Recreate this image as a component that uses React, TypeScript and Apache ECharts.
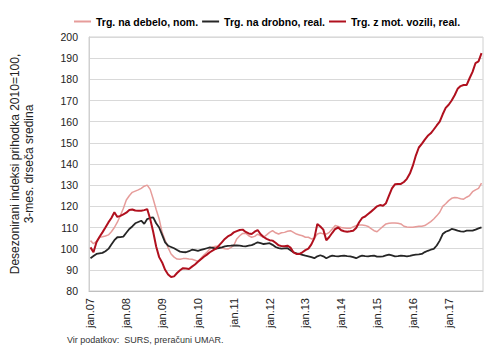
import React, { useEffect, useRef } from "react";
import * as echarts from "echarts";

const monthNames = ["jan", "feb", "mar", "apr", "maj", "jun", "jul", "avg", "sep", "okt", "nov", "dec"];
const yearSuffixes = ["07", "08", "09", "10", "11", "12", "13", "14", "15", "16", "17"];
const categories = yearSuffixes.flatMap((y) => monthNames.map((m) => `${m}.${y}`));

const seriesNames = ["Trg. na debelo, nom.", "Trg. na drobno, real.", "Trg. z mot. vozili, real."];

const debelo = [
  103.8, 102.3, 103.5, 105.4, 105.6, 106, 106.5, 108, 110, 112.5, 115.6, 119,
  123, 125, 126.6, 127.2, 127.8, 128.5, 129.5, 130, 128, 123.5, 118.5, 114,
  107.7, 104, 100.5, 97.5, 96, 95.1, 95, 95.3, 95.3, 95.1, 95, 94.5,
  94, 95.5, 97, 98.3, 99.9, 100.8, 101.2, 101, 100.3, 100, 99.8, 100.5,
  101.5, 104.6, 106.1, 107.2, 107.3, 106.1, 105.4, 105.8, 106.9, 106.1, 105.4, 106.5,
  107.7, 108.5, 107.5, 106.9, 107.5, 107.7, 108.2, 108.5, 107.7, 106.9, 106.5, 106.1,
  105.4, 105.4, 104.6, 105, 106.9, 107.4, 107, 106.9, 107.7, 109.3, 110.9, 110.5,
  110, 109.8, 109.6, 109.6, 110.3, 110.9, 111.2, 111.2, 111, 110.5, 109.5, 108.5,
  108, 109.3, 110.5, 111.7, 112, 112.1, 112.1, 112, 111.7, 110.6, 110.2, 110.1,
  110.1, 110.4, 110.6, 110.6, 110.9, 111.8, 112.8, 114, 115.5, 117.2, 120, 121.2,
  122.7, 123.8, 124.2, 124, 123.6, 123.4, 124.3, 125.1, 126.9, 127.8, 128.5, 131,
];

const drobno = [
  95.5, 96.5, 97.5, 97.8, 98, 98.8, 99.9, 102, 104, 105.4, 105.5, 105.7,
  107.5, 109.3, 110.5, 112, 112.6, 113.2, 111.7, 114, 114.5, 114.8, 112, 110,
  106.5, 103, 101.4, 100.8, 100.2, 99.4, 98.6, 98.4, 98.3, 98.8, 99.5, 99.3,
  99, 99.4, 99.8, 100.2, 100.6, 100.4, 100, 100.3, 100.6, 101.1, 101.3, 101.4,
  101.6, 101.5, 101.4, 101.2, 101.1, 101.4, 101.7, 102.3, 103, 102.6, 102.2, 102.4,
  102.6, 101.8, 100.8, 100.3, 100, 100.1, 100.2, 99.3, 98.3, 97.8, 97.5, 97.1,
  96.7, 96.4, 96, 95.5, 96.4, 96.9, 96.4, 95.5, 96.2, 96.7, 96.5, 96.4,
  96.6, 96.7, 96.5, 96.4, 96, 95.5, 96.2, 96.7, 96.5, 96.4, 96.6, 96.7,
  96.2, 96.2, 96.4, 96.8, 97.2, 96.8, 96.4, 96.5, 96.7, 96.6, 96.4, 96.6,
  97, 97.2, 97.3, 97.5, 98.4, 99, 99.5, 99.9, 101.5, 103.8, 106.9, 108,
  108.5, 109.3, 109, 108.5, 108.2, 108, 108.5, 108.5, 108.5, 109, 109.6, 110.1,
];

const vozila = [
  100.6, 98.3, 103, 105.5, 107.7, 110, 112.4, 114.5, 117.2, 115, 115.5, 116.2,
  117, 118.3, 118.5, 118, 117.9, 117.9, 118.2, 118.7, 114, 108, 101, 96,
  93.5, 90, 87.8, 86.6, 86.9, 88.5, 89.8, 90.8, 90.6, 90.4, 91.5, 92.5,
  93.8, 95, 96.2, 97.2, 98.3, 99.2, 100, 101.4, 103, 104.6, 105.8, 106.5,
  107.7, 108.3, 108.8, 109, 107.9, 107.2, 106.9, 108, 108.8, 106.8, 105.5, 104.6,
  104, 103.8, 102.8, 101.6, 101.2, 101.1, 101.4, 100.5, 98.3, 97.5, 97.5, 98.3,
  99.3, 100, 102, 105, 111.7, 110.5, 109, 104, 105.5, 107.5, 109.3, 110,
  108.7, 108.2, 108, 108.2, 108.5, 109.8, 112.5, 114.5, 115.2, 116.4, 117.5, 118.7,
  120, 120.6, 120.3, 121.5, 125.1, 128.5, 130.4, 130.6, 130.6, 131.5, 133, 135.5,
  139.2, 144, 147.8, 149.5, 151.5, 153.3, 154.5, 156.3, 158.2, 160, 163.5, 166.5,
  168, 170, 172.5, 175.5, 176.8, 177.3, 177.3, 180.5, 183.5, 187.7, 188.5, 192.4,
];

const colors = ["#e69c9a", "#262626", "#b0101e"];
const widths = [1.5, 1.8, 2];

const yTitle = "Desezonirani indeksi prihodka 2010=100,\n3-mes. drseča sredina";
const sourceText = "Vir podatkov:  SURS, preračuni UMAR.";

export default function App() {
  const ref = useRef<HTMLDivElement>(null);
  useEffect(() => {
    document.body.style.margin = "0";
    if (!ref.current) return;
    const chart = echarts.init(ref.current, null, { renderer: "svg" });
    const font = "'Liberation Sans', Arial, sans-serif";
    const dataSets = [debelo, drobno, vozila];
    chart.setOption({
      animation: false,
      textStyle: { fontFamily: font },
      legend: {
        top: 11,
        left: 69,
        itemGap: 4,
        itemWidth: 17,
        itemHeight: 2,
        icon: "rect",
        textStyle: { fontSize: 10.5, fontWeight: "bold", color: "#000", fontFamily: font },
        data: seriesNames,
      },
      grid: {
        left: 67,
        right: 7,
        top: 37,
        bottom: 62,
        show: true,
        borderColor: "#d0d0d0",
        borderWidth: 1,
      },
      xAxis: {
        type: "category",
        data: categories,
        boundaryGap: true,
        axisLine: { show: true, lineStyle: { color: "#bfbfbf", width: 1 } },
        axisTick: { show: false },
        axisLabel: {
          interval: (i: number) => i % 12 === 0,
          rotate: 90,
          fontSize: 11,
          color: "#222",
          margin: 7,
          fontFamily: font,
        },
        splitLine: { show: false },
      },
      yAxis: {
        type: "value",
        min: 80,
        max: 200,
        interval: 10,
        name: yTitle,
        nameLocation: "middle",
        nameRotate: 90,
        nameGap: 53,
        nameTextStyle: { fontSize: 12, color: "#222", lineHeight: 14, fontFamily: font },
        axisLine: { show: true, lineStyle: { color: "#d0d0d0" } },
        axisTick: { show: false },
        axisLabel: { fontSize: 10.5, color: "#222", margin: 11, fontFamily: font },
        splitLine: { show: true, lineStyle: { color: "#d9d9d9", width: 1 } },
      },
      series: seriesNames.map((name, i) => ({
        name,
        type: "line",
        data: dataSets[i],
        showSymbol: false,
        symbol: "none",
        color: colors[i],
        lineStyle: { color: colors[i], width: widths[i] },
        z: 2 + i,
      })),
      graphic: [
        {
          type: "text",
          left: 67,
          top: 335,
          style: { text: sourceText, fontSize: 9, fill: "#333", fontFamily: font },
        },
      ],
    });
    return () => chart.dispose();
  }, []);
  return <div ref={ref} style={{ width: 490, height: 353 }} />;
}
